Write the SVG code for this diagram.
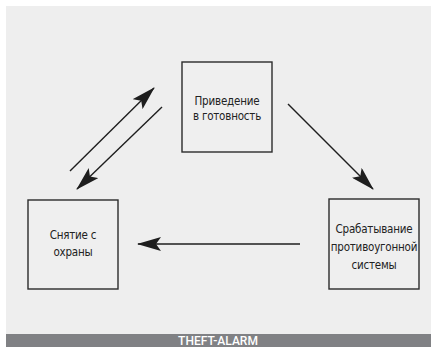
<svg xmlns="http://www.w3.org/2000/svg" width="431" height="347" viewBox="0 0 431 347">
<defs>
<style>
.box{fill:#efefef;stroke:#2b2b2b;stroke-width:1.4}
.lbl{font-family:"DejaVu Sans Condensed","DejaVu Sans",sans-serif;font-size:11.5px;letter-spacing:-0.2px;fill:#222;text-anchor:middle}
.con{stroke:#1e1e1e;stroke-width:1.4;fill:none;marker-end:url(#ah)}
.bar{font-family:Roboto,"DejaVu Sans",sans-serif;font-weight:500;font-size:12px;fill:#fff;text-anchor:middle}
</style>
<marker id="ah" viewBox="0 0 24 14" refX="23" refY="7" markerWidth="24" markerHeight="14" markerUnits="userSpaceOnUse" orient="auto">
<path d="M0,0 L24,7 L0,14 L5,7 Z" fill="#1e1e1e"/>
</marker>
</defs>
<rect x="0" y="0" width="431" height="347" fill="#ffffff"/>
<rect x="6" y="6" width="425" height="328" fill="#eeeeee"/>
<rect x="6" y="334" width="425" height="13" fill="#808184"/>
<text class="bar" x="218" y="345">THEFT-ALARM</text>
<g id="connectors">
<line class="con" x1="70" y1="171" x2="154" y2="88"/>
<line class="con" x1="162" y1="107" x2="77" y2="189"/>
<line class="con" x1="288" y1="104" x2="373" y2="189"/>
<line class="con" x1="300" y1="244" x2="138" y2="244"/>
</g>
<g id="node-arm">
<rect class="box" x="182" y="62" width="90" height="90"/>
<text class="lbl" x="227" y="105">Приведение</text>
<text class="lbl" x="227" y="120">в готовность</text>
</g>
<g id="node-disarm">
<rect class="box" x="28" y="200" width="90" height="89"/>
<text class="lbl" x="73" y="239">Снятие с</text>
<text class="lbl" x="73" y="256">охраны</text>
</g>
<g id="node-trigger">
<rect class="box" x="329" y="199" width="90" height="90"/>
<text class="lbl" x="374" y="233">Срабатывание</text>
<text class="lbl" x="374" y="251">противоугонной</text>
<text class="lbl" x="374" y="269">системы</text>
</g>
</svg>
